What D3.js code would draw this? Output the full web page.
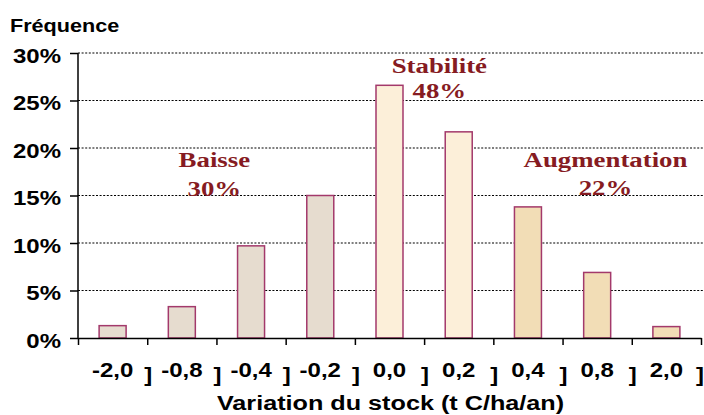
<!DOCTYPE html>
<html>
<head>
<meta charset="utf-8">
<script src="https://cdn.jsdelivr.net/npm/d3@7/dist/d3.min.js"></script>
<style>
  body { margin: 0; background: #fff; }
  .sans { font-family: "Liberation Sans", Arial, sans-serif; font-weight: bold; fill: #000; }
  .serif { font-family: "Liberation Serif", "Times New Roman", serif; font-weight: bold; fill: #861b22; }
</style>
</head>
<body>
<svg id="chart" width="704" height="415"></svg>
<script>
// classes of stock variation and their frequency (%)
var categories = ["-2,0", "-0,8", "-0,4", "-0,2", "0,0", "0,2", "0,4", "0,8", "2,0"];
var frequencies = [1.3, 3.3, 9.7, 15.0, 26.6, 21.7, 13.8, 6.9, 1.2];
var barGroup = [0, 0, 0, 0, 1, 1, 2, 2, 2];
var groupNames = ["Baisse", "Stabilité", "Augmentation"];
var groupShares = ["30%", "48%", "22%"];
var yTicks = [0, 5, 10, 15, 20, 25, 30];

var margin = { top: 53, right: 3, bottom: 77, left: 78 },
  width = 704 - margin.left - margin.right,
  height = 415 - margin.top - margin.bottom;

var stretch = 1.2; // text in the picture is drawn wide

var svg = d3.select("#chart");
var g = svg.append("g").attr("transform", "translate(" + margin.left + "," + margin.top + ")");

var x = d3.scaleBand().domain(categories).range([0, width]).paddingInner(0.61).paddingOuter(0.305);
var edge = d3.scaleLinear().domain([0, categories.length]).range([0, width]);
var y = d3.scaleLinear().domain([0, 30]).range([height, 0]);

var fills = ["#e6dccf", "#fcefd9", "#f2ddb6"];

function place(sel, px, py, s) {
  return sel.attr("transform", "translate(" + px + "," + py + ") scale(" + (s || stretch) + ",1)");
}

// grid lines
g.append("g").selectAll("line").data(yTicks.slice(1)).join("line")
  .attr("x1", 0).attr("x2", width + 2)
  .attr("y1", d => y(d)).attr("y2", d => y(d))
  .attr("stroke", "#000").attr("stroke-width", 1.2)
  .attr("stroke-dasharray", "2,1.6");

// y axis
var yAxis = g.append("g").call(d3.axisLeft(y).tickValues(yTicks).tickSize(8).tickFormat(""));
yAxis.select(".domain").attr("d", "M0," + y(30) + "V" + height).attr("stroke-width", 1.5);
yAxis.selectAll(".tick line").attr("stroke-width", 1.5);

g.append("g").selectAll("text").data(yTicks).join("text")
  .attr("class", "sans").attr("font-size", 20).attr("text-anchor", "end")
  .each(function (d) { place(d3.select(this), -17, y(d) + 9.5); })
  .text(d => d + "%");

// bars
g.append("g").selectAll("rect").data(frequencies).join("rect")
  .attr("x", (d, i) => x(categories[i]))
  .attr("y", d => y(d))
  .attr("width", x.bandwidth())
  .attr("height", d => height - y(d))
  .attr("fill", (d, i) => fills[barGroup[i]])
  .attr("stroke", "#a3396b").attr("stroke-width", 1.5);

// x axis with ticks at class boundaries
var xAxis = g.append("g").attr("transform", "translate(0," + height + ")")
  .call(d3.axisBottom(edge).tickValues(d3.range(categories.length + 1)).tickSize(7).tickFormat("").tickSizeOuter(0));
xAxis.select(".domain").attr("stroke-width", 1.5);
xAxis.selectAll(".tick line").attr("stroke-width", 1.5);

g.append("g").selectAll("text").data(categories).join("text")
  .attr("class", "sans").attr("font-size", 20).attr("text-anchor", "middle")
  .each(function (d) { place(d3.select(this), x(d) + x.bandwidth() / 2, height + 38.5); })
  .text(d => d);

g.append("g").selectAll("text").data(d3.range(1, categories.length + 1)).join("text")
  .attr("class", "sans").attr("font-size", 20).attr("text-anchor", "middle")
  .each(function (d) { place(d3.select(this), Math.min(edge(d) + 1, width - 1), height + 44); })
  .text("]");

// axis titles
place(svg.append("text").attr("class", "sans").attr("font-size", 21).attr("text-anchor", "middle"),
  margin.left + width / 2 + 1, 410).text("Variation du stock (t C/ha/an)");
place(svg.append("text").attr("class", "sans").attr("font-size", 18),
  10, 32).text("Fréquence");

// group annotations
var annX = [1.97, 5.22, 7.62];
var annY = [[18.0, 14.95], [27.9, 25.3], [18.0, 15.1]];
groupNames.forEach(function (name, i) {
  place(g.append("text").attr("class", "serif").attr("font-size", 22).attr("text-anchor", "middle"),
    edge(annX[i]), y(annY[i][0]), 1.22).text(name);
  place(g.append("text").attr("class", "serif").attr("font-size", 22).attr("text-anchor", "middle"),
    edge(annX[i]), y(annY[i][1]), 1.22).text(groupShares[i]);
});
</script>
</body>
</html>
